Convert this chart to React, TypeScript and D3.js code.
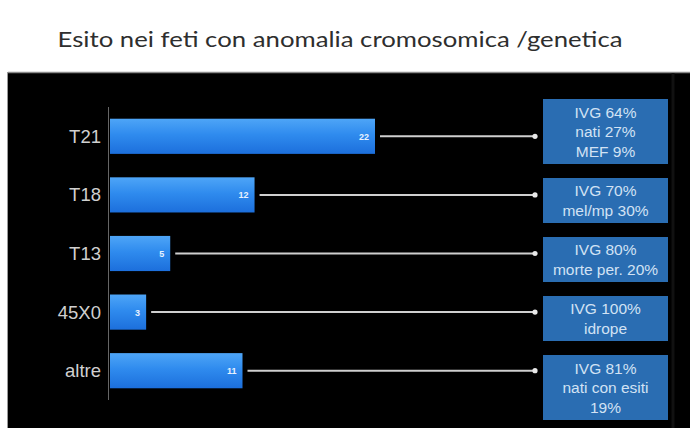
import React from "react";
import * as d3 from "d3";

const categories = ["T21", "T18", "T13", "45X0", "altre"];
const counts = [22, 12, 5, 3, 11];
const outcomes: string[][] = [
  ["IVG 64%", "nati 27%", "MEF 9%"],
  ["IVG 70%", "mel/mp 30%"],
  ["IVG 80%", "morte per. 20%"],
  ["IVG 100%", "idrope"],
  ["IVG 81%", "nati con esiti", "19%"],
];
const title = "Esito nei feti con anomalia cromosomica /genetica";

const W = 690;
const H = 428;

export default function App() {
  const x = d3.scaleLinear().domain([0, 22]).range([110, 375]);
  const y = d3
    .scaleBand<string>()
    .domain(categories)
    .range([107, 400])
    .paddingInner(0.4)
    .paddingOuter(0.2);

  const boxX = 543;
  const boxW = 125;
  const lineH = 19.5;
  const boxGap = 14;
  let top = 99;
  const boxes = outcomes.map((lines) => {
    const h = lines.length === 3 ? 65 : 45;
    const b = { top, h, lines };
    top += h + boxGap;
    return b;
  });

  return (
    <div style={{ position: "fixed", left: 0, top: 0, width: W, height: H, background: "#fff" }}>
      <svg width={W} height={H} style={{ display: "block" }}>
        <defs>
          <linearGradient id="barGrad" x1="0" y1="0" x2="0" y2="1">
            <stop offset="0%" stopColor="#4ea5f7" />
            <stop offset="45%" stopColor="#2f8bee" />
            <stop offset="100%" stopColor="#1c6fdc" />
          </linearGradient>
        </defs>
        <rect x={0} y={0} width={W} height={H} fill="#ffffff" />
        <text
          x={340}
          y={47}
          textAnchor="middle"
          fontFamily="Lato, 'Open Sans', sans-serif"
          fontSize={22}
          fill="#2e2e2e"
          textLength={565}
          lengthAdjust="spacingAndGlyphs"
        >
          {title}
        </text>
        {/* dark panel */}
        <rect x={8} y={72} width={W - 8} height={H - 72} fill="#000" />
        <line x1={8} x2={W} y1={72.5} y2={72.5} stroke="#8a8a8a" strokeWidth={1.5} />
        <line x1={7.5} x2={7.5} y1={72} y2={H} stroke="#9a9a9a" strokeWidth={1} />
        <line x1={673} x2={673} y1={73} y2={H} stroke="#111" strokeWidth={3} />

        {/* axis */}
        <line x1={108.5} x2={108.5} y1={107} y2={400} stroke="#666" strokeWidth={1} />

        {categories.map((c, i) => {
          const by = y(c)!;
          const bh = y.bandwidth();
          const cy = by + bh / 2;
          const xEnd = x(counts[i]);
          const lineEnd = 535;
          return (
            <g key={c}>
              <text
                x={101}
                y={cy + 6.5}
                textAnchor="end"
                fontFamily="'Liberation Sans', Arial, sans-serif"
                fontSize={18.5}
                fill="#d0d0d0"
              >
                {c}
              </text>
              <rect x={x(0)} y={by} width={xEnd - x(0)} height={bh} fill="url(#barGrad)" />
              <text
                x={xEnd - 6}
                y={cy + 3.5}
                textAnchor="end"
                fontFamily="'Liberation Sans', Arial, sans-serif"
                fontSize={9}
                fontWeight="bold"
                fill="#e8f2ff"
              >
                {counts[i]}
              </text>
              <line x1={xEnd + 5} x2={lineEnd} y1={cy} y2={cy} stroke="#cfcfcf" strokeWidth={2} />
              <circle cx={lineEnd} cy={cy} r={2.6} fill="#e8e8e8" />
            </g>
          );
        })}

        {boxes.map((b, i) => (
          <g key={i}>
            <rect x={boxX} y={b.top} width={boxW} height={b.h} fill="#2a6db2" />
            {b.lines.map((t, j) => (
              <text
                key={j}
                x={boxX + boxW / 2}
                y={b.top + b.h / 2 + (j - (b.lines.length - 1) / 2) * lineH + 5.5}
                textAnchor="middle"
                fontFamily="'Liberation Sans', Arial, sans-serif"
                fontSize={15.5}
                fill="#d2e2f4"
              >
                {t}
              </text>
            ))}
          </g>
        ))}
      </svg>
    </div>
  );
}
